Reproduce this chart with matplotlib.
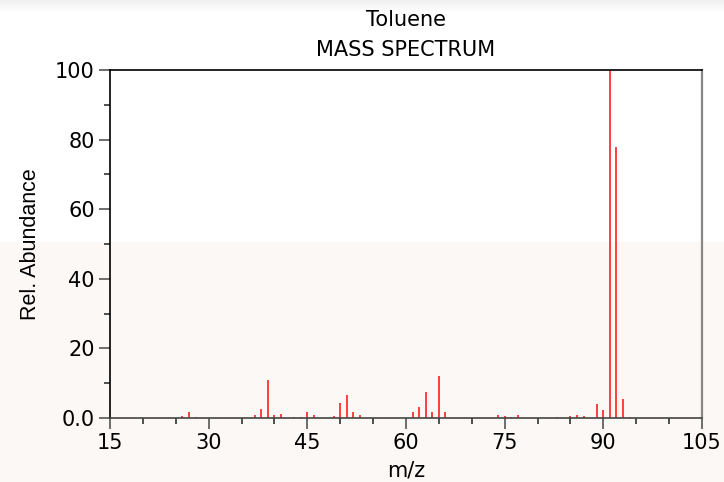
import numpy as np
import matplotlib.pyplot as plt
from matplotlib.patches import Rectangle
from matplotlib.ticker import MultipleLocator, FixedLocator, FixedFormatter

# peaks (m/z, relative abundance %)
mz = [26, 27, 28, 37, 38, 39, 40, 41, 43, 44, 45, 46,
      49, 50, 51, 52, 53, 55, 57, 60, 61, 62, 63, 64, 65, 66,
      73, 74, 75, 76, 77, 83, 85, 86, 87, 89, 90, 91, 92, 93, 94]
abundance = [0.7, 1.8, 0.3, 1.0, 2.6, 11.0, 1.0, 1.1, 0.3, 0.2, 1.6, 1.0,
             0.6, 4.3, 6.5, 1.6, 0.9, 0.1, 0.1, 0.1, 1.6, 3.3, 7.5, 1.6, 12.2, 1.6,
             0.1, 1.0, 0.7, 0.4, 1.0, 0.2, 0.7, 0.9, 0.6, 4.1, 2.4, 100.0, 78.0, 5.5, 0.2]

x_ticks = [15, 30, 45, 60, 75, 90, 105]
y_ticks = [0, 20, 40, 60, 80, 100]
y_tick_labels = ["0.0", "20", "40", "60", "80", "100"]

fig = plt.figure(figsize=(7.24, 4.82), dpi=100)
fig.patch.set_facecolor("white")
# screenshot-like background: pale lower band, grey fade at the very top
fig.add_artist(Rectangle((0, 0), 1, 240 / 482, transform=fig.transFigure,
                         facecolor="#fcf8f6", edgecolor="none", zorder=-10))
for i in range(12):
    shade = 0.94 + 0.06 * i / 12
    fig.add_artist(Rectangle((0, 1 - (i + 1) / 482), 1, 1 / 482, transform=fig.transFigure,
                             facecolor=(shade, shade, shade), edgecolor="none", zorder=-10))

ax = fig.add_axes([110 / 724, 64 / 482, 592 / 724, 348 / 482])
ax.patch.set_alpha(0)

ax.vlines(mz, 0, abundance, colors="#ff2020", linewidth=1.2)

ax.set_xlim(15, 105)
ax.set_ylim(0, 100)
ax.xaxis.set_major_locator(FixedLocator(x_ticks))
ax.xaxis.set_minor_locator(MultipleLocator(5))
ax.yaxis.set_major_locator(FixedLocator(y_ticks))
ax.yaxis.set_major_formatter(FixedFormatter(y_tick_labels))
ax.yaxis.set_minor_locator(MultipleLocator(10))

ax.tick_params(which="major", length=8, width=1.2, color="#555555", labelsize=15, pad=3)
ax.tick_params(which="minor", length=4.5, width=1.2, color="#333333")

ax.spines["left"].set_color("black")
ax.spines["top"].set_color("black")
ax.spines["bottom"].set_color("#444444")
ax.spines["right"].set_color("#888888")
ax.spines["right"].set_linewidth(1.6)
for s in ["left", "top", "bottom"]:
    ax.spines[s].set_linewidth(1.2)

ax.set_xlabel("m/z", fontsize=15, labelpad=5)
ax.set_ylabel("Rel. Abundance", fontsize=15.5, family="Liberation Sans", labelpad=10)

fig.text(406 / 724, 1 - 20 / 482, "Toluene", ha="center", va="center", fontsize=15)
fig.text(406 / 724, 1 - 50 / 482, "MASS SPECTRUM", ha="center", va="center", fontsize=15)

fig.savefig("out.png", dpi=100)
